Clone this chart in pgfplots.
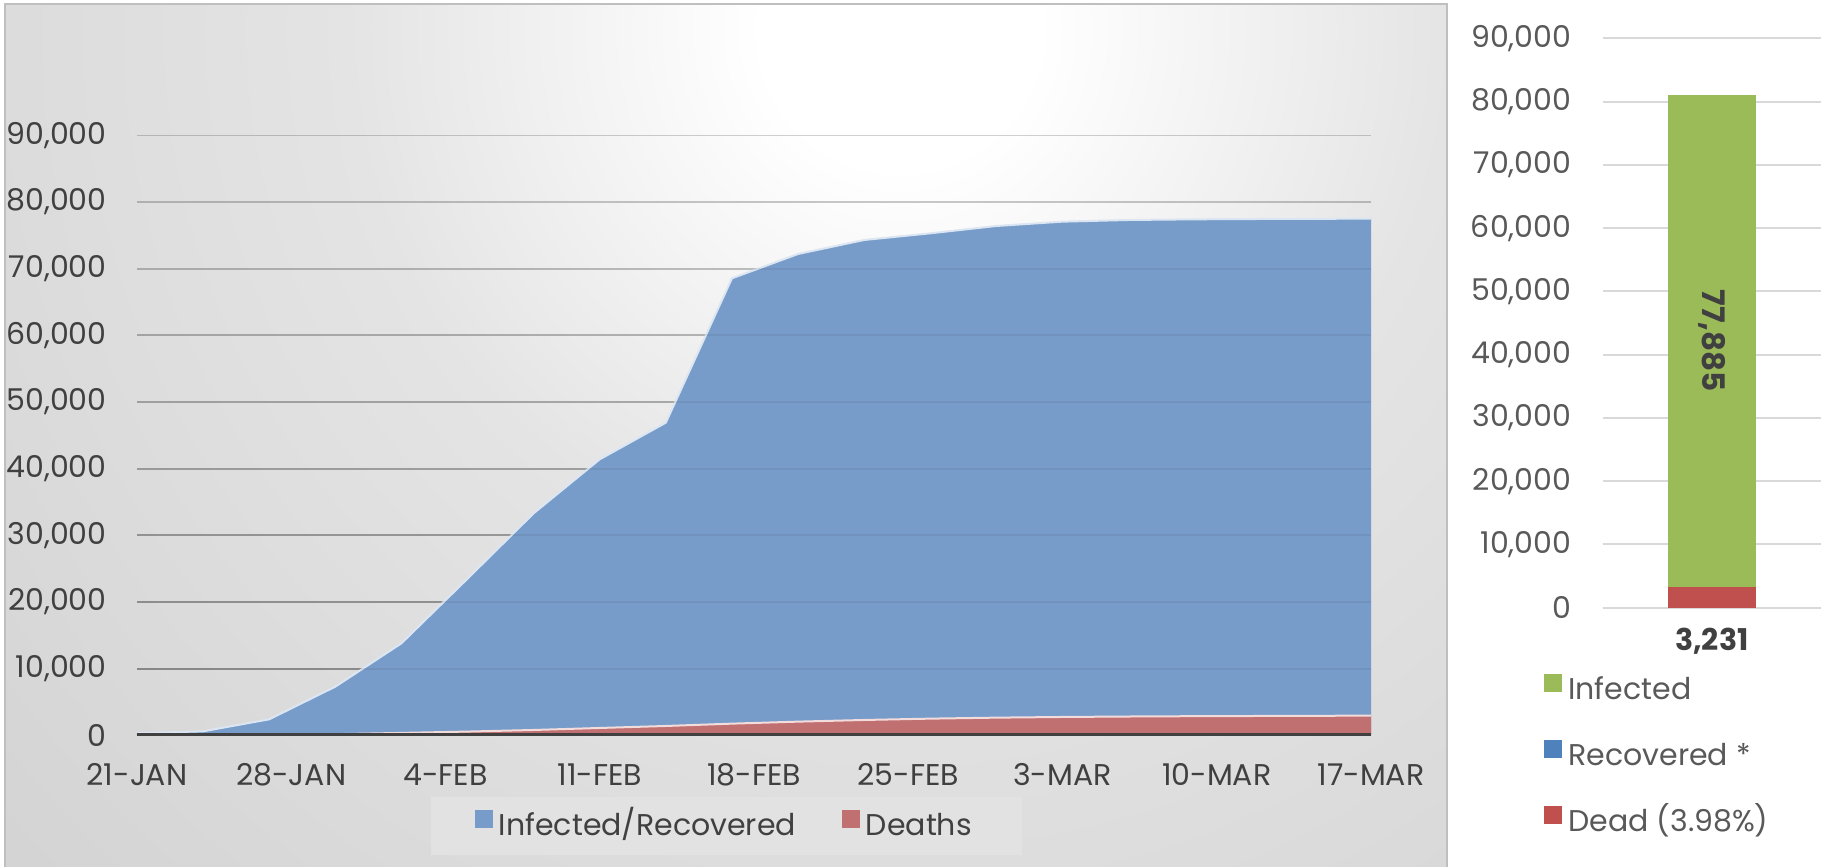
\documentclass[border=0pt]{standalone}
\usepackage{fontspec}
\setmainfont{Poppins}
\usepackage{pgfplots}
\usepackage{pgfplotstable}
\pgfplotsset{compat=1.18}

\definecolor{blueA}{HTML}{779CC9}
\definecolor{blueEdge}{HTML}{DCE6F2}
\definecolor{redA}{HTML}{C07070}
\definecolor{redEdge}{HTML}{F3DCDC}
\definecolor{axisdark}{HTML}{404040}
\definecolor{txtL}{HTML}{404040}
\definecolor{txtR}{HTML}{595959}
\definecolor{legbg}{HTML}{E2E2E2}
\definecolor{gridR}{HTML}{D9D9D9}
\definecolor{barG}{HTML}{9BBB59}
\definecolor{barR}{HTML}{C0504D}
\definecolor{barB}{HTML}{4F81BD}
\definecolor{bgM}{HTML}{E4E4E4}
\definecolor{bgA}{HTML}{D2D2D2}
\definecolor{bgB}{HTML}{C2C2C2}
\definecolor{frame}{HTML}{BFBFBF}

\pgfdeclareradialshading{bgshade}{\pgfpoint{0bp}{0bp}}{color(0bp)=(white); color(3bp)=(white); color(12bp)=(bgM); color(28bp)=(bgA); color(50bp)=(bgB)}

% days after 21 Jan, cumulative counts
\pgfplotstableread{
day inf   dead
0   300   10
3   600   40
6   2400  80
9   7300  170
12  13800 360
15  23500 560
18  33300 800
21  41400 1100
24  46900 1400
27  68550 1750
30  72200 2050
33  74300 2300
36  75300 2500
39  76400 2650
42  77050 2750
45  77300 2820
48  77400 2870
51  77450 2900
54  77480 2930
56  77500 2950
}\covid

\begin{document}
\begin{tikzpicture}[font=\fontsize{15}{18}\selectfont]
% left panel background
\begin{scope}
\clip (2.5pt,-2pt) rectangle (723.5pt,-433.5pt);
\shade[shading=bgshade] (-125pt,560pt) rectangle (1025pt,-590pt);
\end{scope}
\draw[frame, line width=0.8pt] (2.5pt,-433.5pt) -- (2.5pt,-2pt) -- (723.5pt,-2pt) -- (723.5pt,-433.5pt);

\begin{axis}[
  at={(68.5pt,-367.65pt)}, anchor=south west,
  scale only axis, width=617pt, height=300pt,
  xmin=0, xmax=56, ymin=0, ymax=90000,
  axis line style={draw=none},
  major tick length=0pt,
  xtick={0,7,...,56},
  xticklabels={21-JAN,28-JAN,4-FEB,11-FEB,18-FEB,25-FEB,3-MAR,10-MAR,17-MAR},
  ytick={0,10000,...,90000},
  scaled y ticks=false,
  /pgf/number format/1000 sep={,},
  /pgf/number format/assume math mode=true,
  ticklabel style={text=txtL, inner sep=0pt},
  yticklabel style={anchor=east, xshift=-15pt},
  xticklabel style={anchor=north, yshift=-14pt},
  legend columns=2,
  legend image code/.code={\path[#1, draw=none, fill opacity=1] (0pt,0pt) rectangle (9pt,9pt);},
  legend style={at={(0.4776,-0.151)}, anchor=center, draw=none, fill=legbg,
    inner xsep=22pt, inner ysep=6.5pt, text=txtL,
    nodes={inner sep=0pt, inner xsep=3pt, text height=11pt, text depth=3pt},
    /tikz/every even column/.append style={column sep=20pt}},
]
% grid, darker towards the bottom
\pgfplotsinvokeforeach{1,...,9}{
  \draw[black, opacity={0.36-0.025*#1}, line width=1pt] (axis cs:0,#1*10000) -- (axis cs:56,#1*10000);
}
\addplot[fill=blueA, draw=none] table[x=day, y=inf] {\covid} \closedcycle;
\addplot[draw=blueEdge, line width=1pt, forget plot] table[x=day, y=inf] {\covid};
\addplot[fill=redA, draw=none] table[x=day, y=dead] {\covid} \closedcycle;
\addplot[draw=redEdge, line width=1pt, forget plot] table[x=day, y=dead] {\covid};
\pgfplotsinvokeforeach{1,...,9}{
  \draw[black, opacity=0.06, line width=1pt] (axis cs:0,#1*10000) -- (axis cs:56,#1*10000);
}
\draw[axisdark, line width=2pt] (axis cs:0,0) -- (axis cs:56,0);
\legend{Infected/Recovered, Deaths}
\end{axis}

\begin{axis}[
  at={(801.35pt,-303.85pt)}, anchor=south west,
  scale only axis, width=109.15pt, height=284.7pt,
  xmin=-1, xmax=1, ymin=0, ymax=90000,
  ybar stacked, bar width=44pt,
  axis line style={draw=none},
  major tick length=0pt,
  xtick={0}, xticklabels={{\textbf{3,231}}},
  ytick={0,10000,...,90000},
  scaled y ticks=false,
  /pgf/number format/1000 sep={,},
  /pgf/number format/assume math mode=true,
  ymajorgrids,
  grid style={gridR, line width=1pt},
  yticklabel style={text=txtR, inner sep=0pt, anchor=east, xshift=-15.5pt},
  xticklabel style={text=txtL, inner sep=0pt, anchor=north, yshift=-10pt},
  reverse legend,
  legend cell align=left,
  legend image code/.code={\path[#1, draw=none] (0pt,0pt) rectangle (9pt,9pt);},
  legend style={at={(-0.269,-0.115)}, anchor=north west, draw=none, fill=none,
    inner sep=0pt, text=txtR, row sep=17pt,
    nodes={inner sep=0pt, inner xsep=3pt, text height=11pt, text depth=3pt}},
]
\addplot[fill=barR, draw=none] coordinates {(0,3231)};
\addplot[fill=barB, draw=none] coordinates {(0,0)};
\addplot[fill=barG, draw=none] coordinates {(0,77885)};
\legend{Dead (3.98\%), Recovered *, Infected}
\coordinate (greenmid) at (axis cs:0,42173);
\end{axis}
\node[rotate=-90, text=txtL, font=\fontsize{15.5}{18}\selectfont\bfseries] at (greenmid) {77,885};

\pgfresetboundingbox
\path (0pt,0pt) rectangle (913.5pt,-433.5pt);
\end{tikzpicture}
\end{document}
